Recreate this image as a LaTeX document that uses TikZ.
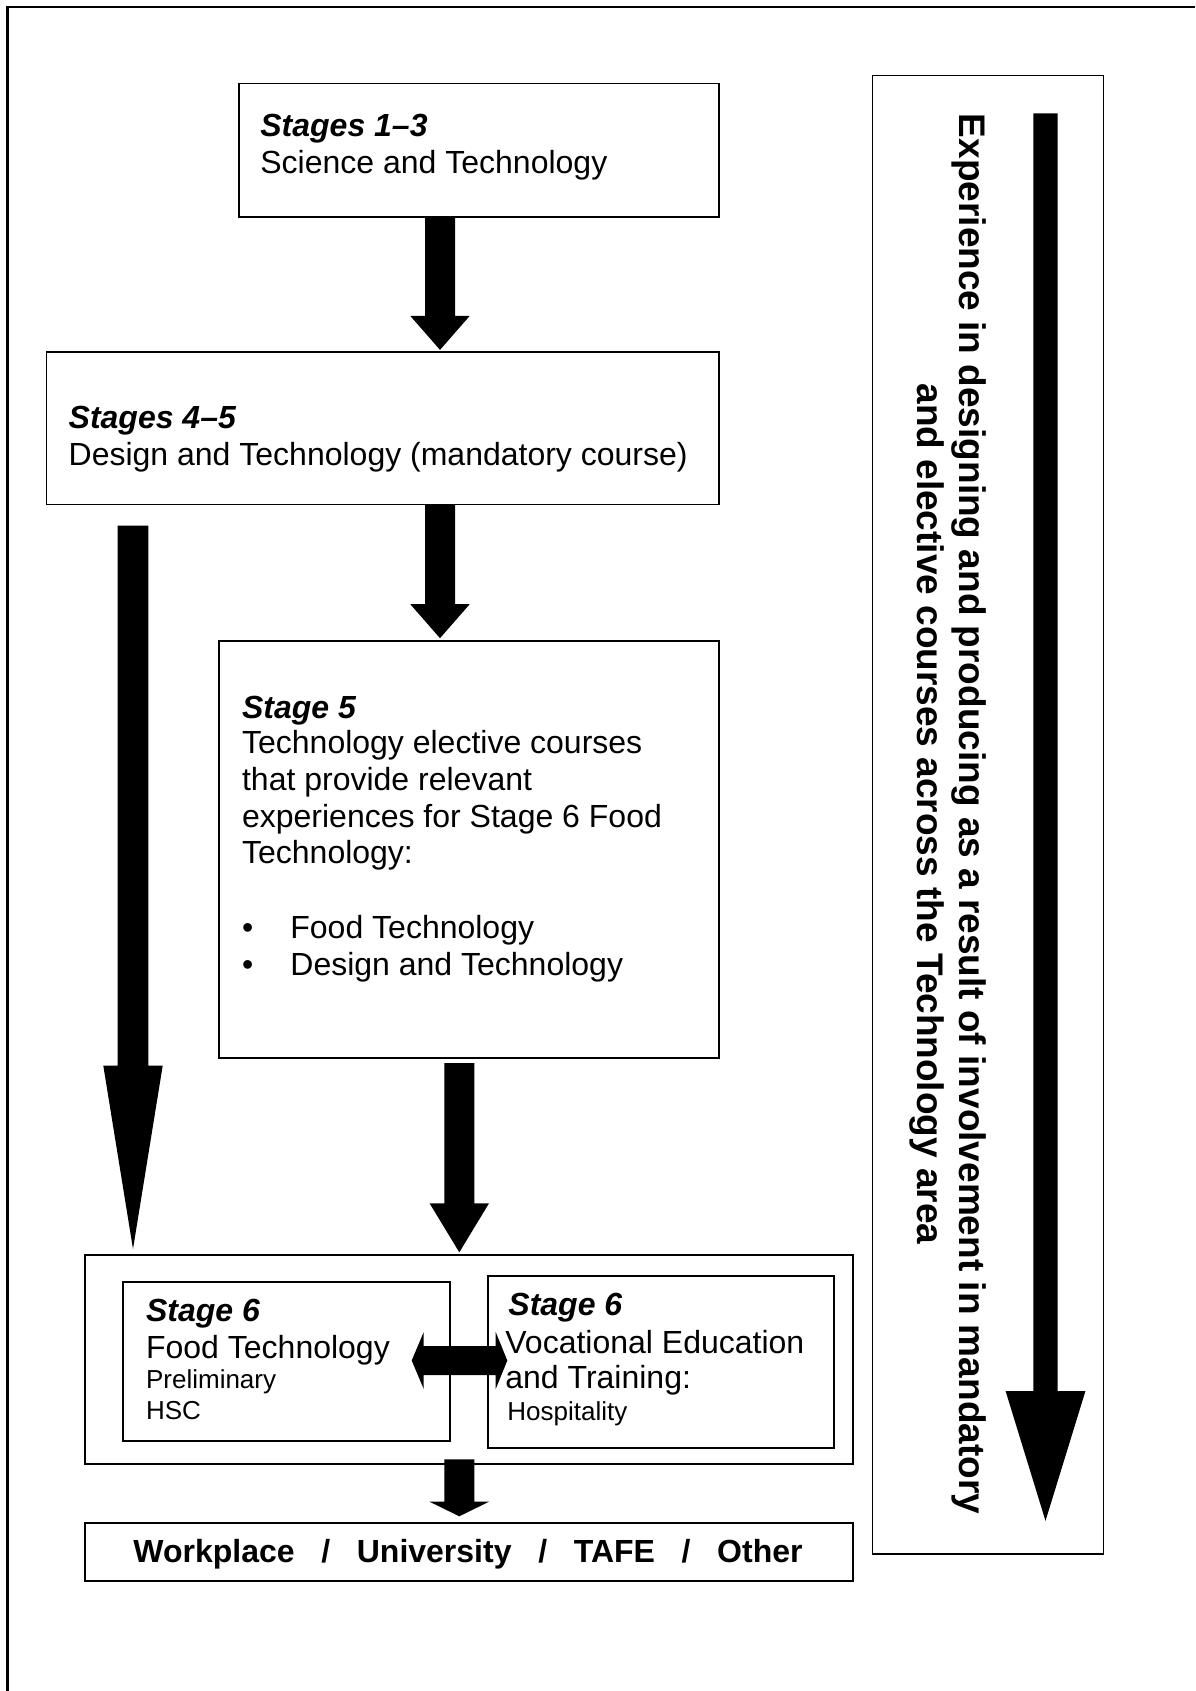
\documentclass[tikz,border=0pt]{standalone}
\usepackage{fontspec}
\setmainfont{Liberation Sans}
\usetikzlibrary{calc,fit}
% block arrow pointing down: #1 start coord, #2 tip coord, #3 half shaft, #4 half head, #5 head length (px)
\newcommand{\blkdown}[5]{\fill[blk] ($(#2|-#1)+(-#3,0)$) -- ($(#2|-#1)+(#3,0)$) -- ($(#2)+(#3,-#5)$) -- ($(#2)+(#4,-#5)$) -- (#2) -- ($(#2)+(-#4,-#5)$) -- ($(#2)+(-#3,-#5)$) -- cycle;}
\begin{document}
\begin{tikzpicture}[x=0.5pt,y=-0.5pt,
  boxn/.style={draw, line width=0.8pt, inner sep=0pt},
  boxk/.style={draw, line width=1pt, inner sep=0pt},
  txt/.style={anchor=base west, inner sep=0pt, font=\fontsize{16}{18}\selectfont},
  hd/.style={anchor=base west, inner sep=0pt, font=\fontsize{16}{18}\selectfont\bfseries\itshape},
  sm/.style={anchor=base west, inner sep=0pt, font=\fontsize{13}{15}\selectfont},
  blk/.style={fill=black},
  vtxt/.style={rotate=-90, anchor=base, inner sep=0pt, font=\fontsize{18.5}{21}\selectfont\bfseries}]

\useasboundingbox (0,0) rectangle (1195,1691);
\fill[white] (0,0) rectangle (1195,1691);
% outer frame (only top and left edges visible)
\draw[line width=1.2pt] (7.3,1691) -- (7.3,7.3) -- (1195,7.3);

% boxes
\node[boxn, fit={(238.7,83.7) (719,216.7)}] (b1) {};
\node[boxn, fit={(46.3,352) (719,504.3)}] (b45) {};
\node[boxn, fit={(219,640.7) (719,1057.7)}] (b5) {};
\node[boxk, fit={(85,1255) (853.3,1464)}] (cont) {};
\node[boxk, fit={(123.3,1281.7) (450,1440.7)}] (ft) {};
\node[boxk, fit={(488.3,1275.7) (834.3,1448.3)}] (vet) {};
\node[boxk, fit={(85,1523.3) (853.3,1581)}] (work) {};
\node[boxn, fit={(872.3,75.7) (1103.3,1554)}] (panel) {};

% texts
\node[hd] (t1a) at (260,136.7) {Stages 1–3};
\node[txt] (t1b) at (260,173) {Science and Technology};

\node[hd] (t2a) at (68.3,428.3) {Stages 4–5};
\node[txt] (t2b) at (68.3,465.7) {Design and Technology (mandatory course)};

\node[hd] (t3a) at (241.7,718.3) {Stage 5};
\node[txt] (t3b) at (241.7,753.3) {Technology elective courses};
\node[txt] (t3c) at (241.7,790.7) {that provide relevant};
\node[txt] (t3d) at (241.7,827.3) {experiences for Stage 6 Food};
\node[txt] (t3e) at (241.7,863.3) {Technology:};
\node[txt] (t3f) at (241.7,938.3) {•};
\node[txt] (t3g) at (290,938.3) {Food Technology};
\node[txt] (t3h) at (241.7,975) {•};
\node[txt] (t3i) at (290,975) {Design and Technology};

\node[hd] (t4a) at (145.7,1321.7) {Stage 6};
\node[txt] (t4b) at (145.7,1358.3) {Food Technology};
\node[sm] (t4c) at (145.7,1388.3) {Preliminary};
\node[sm] (t4d) at (145.7,1419) {HSC};

\node[hd] (t5a) at (508,1315) {Stage 6};
\node[txt] (t5b) at (505,1353.3) {Vocational Education};
\node[txt] (t5c) at (505,1388.3) {and Training:};
\node[sm] (t5d) at (507,1420) {Hospitality};

\node[txt, font=\fontsize{16}{18}\selectfont\bfseries] (wt) at (133,1562.7) {Workplace~~~/~~~University~~~/~~~TAFE~~~/~~~Other};

\node[vtxt] (v1) at (959,814) {Experience in designing and producing as a result of involvement in mandatory};
\node[vtxt] (v2) at (917,814) {and elective courses across the Technology area};

% arrow columns
\coordinate (c1) at (440,0);
\coordinate (cL) at (133,0);
\coordinate (c3) at (459.3,0);
\coordinate (cR) at (1045.5,0);

\coordinate (a1s) at (c1 |- b1.south);
\coordinate (a1e) at ($(c1 |- b45.north)+(0,-1.3)$);
\coordinate (a2s) at (c1 |- b45.south);
\coordinate (a2e) at ($(c1 |- b5.north)+(0,-1.7)$);
\coordinate (aLs) at ($(cL |- b45.south)+(0,20.4)$);
\coordinate (aLe) at ($(cL |- cont.north)+(0,-5)$);
\coordinate (a3s) at ($(c3 |- b5.south)+(0,4.6)$);
\coordinate (a3e) at ($(c3 |- cont.north)+(0,-1.7)$);
\coordinate (a4s) at ($(c3 |- cont.south)+(0,-5.7)$);
\coordinate (a4e) at ($(c3 |- work.north)+(0,-6)$);
\coordinate (aRs) at ($(cR |- panel.north)+(0,38.6)$);
\coordinate (aRe) at ($(cR |- panel.south)+(0,-34)$);

\blkdown{a1s}{a1e}{15}{29.7}{34}
\blkdown{a2s}{a2e}{15}{29.7}{34}
\blkdown{aLs}{aLe}{15.3}{29.7}{183.3}
\blkdown{a3s}{a3e}{15}{29.7}{49}
\blkdown{a4s}{a4e}{15}{29.7}{14.6}
\blkdown{aRs}{aRe}{12.2}{39.9}{129.7}

% double arrow between the two Stage 6 boxes
\coordinate (dl) at ($(ft.east)+(-39.3,-0.7)$);
\coordinate (dr) at ($(vet.west |- dl)+(20,0)$);
\fill[blk] (dl) -- ($(dl)+(12,-28.5)$) -- ($(dl)+(12,-14.5)$) -- ($(dr)+(-11.6,-14.5)$) -- ($(dr)+(-11.6,-28.5)$) -- (dr)
  -- ($(dr)+(-11.6,28.5)$) -- ($(dr)+(-11.6,14.5)$) -- ($(dl)+(12,14.5)$) -- ($(dl)+(12,28.5)$) -- cycle;
\end{tikzpicture}
\end{document}
